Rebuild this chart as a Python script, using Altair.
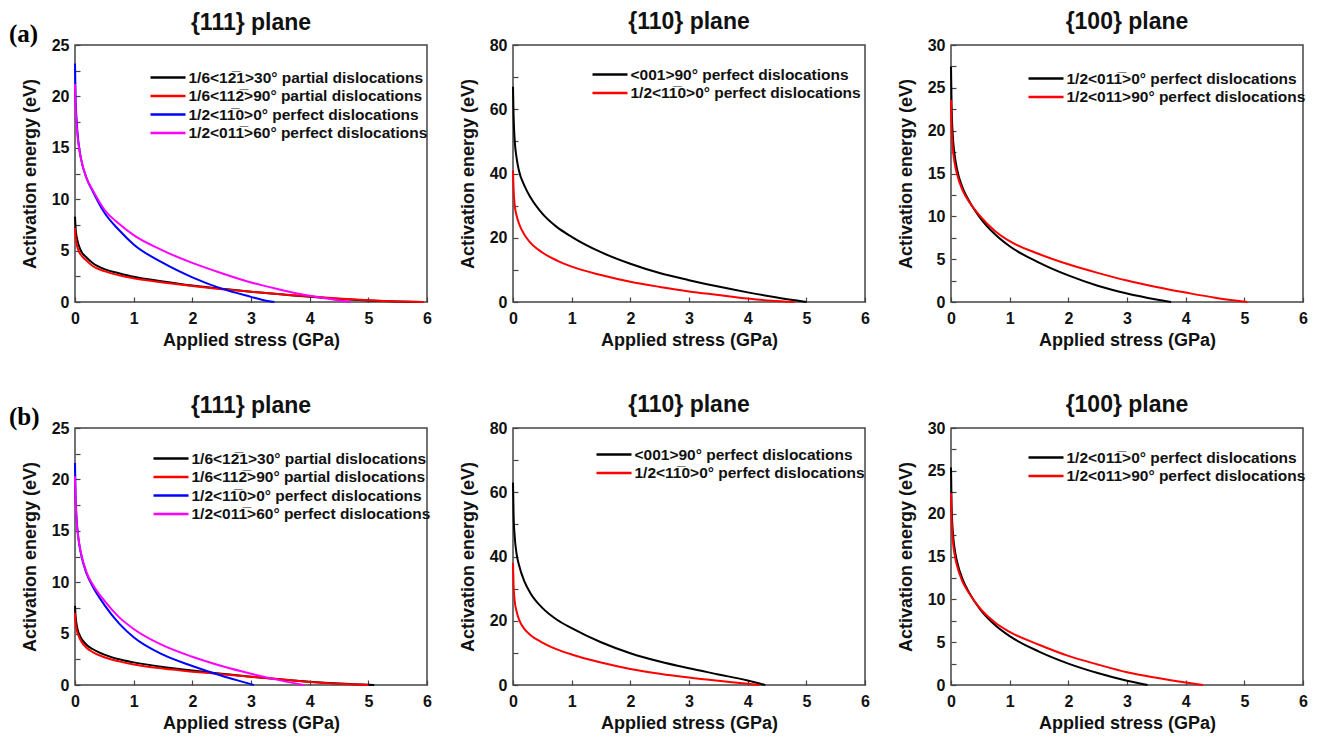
import altair as alt
import pandas as pd

# ---------------- data ----------------
# Row (a)
a111_x_30 = [0, 0.01, 0.03, 0.06, 0.1, 0.2, 0.3, 0.5, 0.75, 1, 1.5, 2, 2.5, 3, 3.5, 4, 4.5, 5, 5.5, 5.9]
a111_y_30 = [8.3, 7.2, 6.3, 5.6, 5.0, 4.3, 3.8, 3.2, 2.8, 2.45, 2.0, 1.6, 1.3, 1.0, 0.75, 0.5, 0.3, 0.15, 0.05, 0]
a111_x_90 = [0, 0.01, 0.03, 0.06, 0.1, 0.2, 0.3, 0.5, 0.75, 1, 1.5, 2, 2.5, 3, 3.5, 4, 4.5, 5, 5.5, 5.95]
a111_y_90 = [7.2, 6.3, 5.6, 5.0, 4.6, 4.0, 3.5, 3.0, 2.6, 2.3, 1.9, 1.55, 1.25, 1.0, 0.75, 0.55, 0.35, 0.18, 0.06, 0]
a111_x_0 = [0, 0.01, 0.03, 0.06, 0.1, 0.2, 0.3, 0.5, 0.75, 1, 1.5, 2, 2.5, 3, 3.2, 3.4]
a111_y_0 = [23.2, 20, 17.5, 15.5, 14.0, 12.0, 10.8, 8.7, 7.0, 5.6, 3.8, 2.4, 1.3, 0.5, 0.2, 0]
a111_x_60 = [0, 0.01, 0.03, 0.06, 0.1, 0.2, 0.3, 0.5, 0.75, 1, 1.5, 2, 2.5, 3, 3.5, 4, 4.4, 4.7]
a111_y_60 = [21.2, 19, 17, 15.3, 14.0, 12.0, 10.9, 9.0, 7.6, 6.5, 5.0, 3.8, 2.8, 1.9, 1.2, 0.6, 0.25, 0]

a110_x_90 = [0, 0.01, 0.03, 0.06, 0.1, 0.2, 0.3, 0.5, 0.75, 1, 1.5, 2, 2.5, 3, 3.5, 4, 4.5, 5]
a110_y_90 = [67, 58, 50, 45, 41, 36, 32.5, 27.5, 23.3, 20.3, 15.5, 11.9, 9.0, 6.8, 4.8, 3.0, 1.4, 0]
a110_x_0 = [0, 0.01, 0.03, 0.06, 0.1, 0.2, 0.3, 0.5, 0.75, 1, 1.5, 2, 2.5, 3, 3.5, 4, 4.4, 4.8]
a110_y_0 = [41, 35, 30, 27, 24.5, 20.8, 18.4, 15.4, 12.9, 11.0, 8.4, 6.3, 4.7, 3.3, 2.2, 1.1, 0.4, 0]

a100_x_0 = [0, 0.01, 0.03, 0.06, 0.1, 0.2, 0.3, 0.5, 0.75, 1, 1.5, 2, 2.5, 3, 3.5, 3.75]
a100_y_0 = [27.5, 23, 19.5, 17.3, 15.6, 13.3, 11.9, 9.8, 7.9, 6.5, 4.6, 3.1, 1.9, 1.0, 0.3, 0]
a100_x_90 = [0, 0.01, 0.03, 0.06, 0.1, 0.2, 0.3, 0.5, 0.75, 1, 1.5, 2, 2.5, 3, 3.5, 4, 4.5, 5.05]
a100_y_90 = [23.6, 20.5, 18, 16.3, 15.0, 13.0, 11.8, 10.0, 8.3, 7.1, 5.6, 4.4, 3.4, 2.5, 1.75, 1.1, 0.5, 0]

# Row (b)
b111_x_30 = [0, 0.01, 0.03, 0.06, 0.1, 0.2, 0.3, 0.5, 0.75, 1, 1.5, 2, 2.5, 3, 3.5, 4, 4.5, 5.1]
b111_y_30 = [7.7, 6.7, 5.8, 5.1, 4.6, 3.9, 3.5, 2.95, 2.5, 2.2, 1.75, 1.4, 1.1, 0.8, 0.55, 0.32, 0.14, 0]
b111_x_90 = [0, 0.01, 0.03, 0.06, 0.1, 0.2, 0.3, 0.5, 0.75, 1, 1.5, 2, 2.5, 3, 3.5, 4, 4.5, 5.0]
b111_y_90 = [7.0, 6.0, 5.3, 4.8, 4.3, 3.6, 3.2, 2.7, 2.3, 2.0, 1.6, 1.3, 1.05, 0.8, 0.55, 0.3, 0.12, 0]
b111_x_0 = [0, 0.01, 0.03, 0.06, 0.1, 0.2, 0.3, 0.5, 0.75, 1, 1.5, 2, 2.5, 2.8, 3.05]
b111_y_0 = [21.6, 18.5, 16, 14.2, 12.8, 10.8, 9.6, 7.8, 6.0, 4.65, 2.95, 1.85, 0.9, 0.4, 0]
b111_x_60 = [0, 0.01, 0.03, 0.06, 0.1, 0.2, 0.3, 0.5, 0.75, 1, 1.5, 2, 2.5, 3, 3.5, 3.9]
b111_y_60 = [20.3, 18, 15.8, 14.2, 12.9, 10.9, 9.8, 8.2, 6.6, 5.45, 3.85, 2.75, 1.85, 1.1, 0.45, 0]

b110_x_90 = [0, 0.01, 0.03, 0.06, 0.1, 0.2, 0.3, 0.5, 0.75, 1, 1.5, 2, 2.5, 3, 3.5, 4, 4.3]
b110_y_90 = [63, 53, 46, 41, 37.5, 32, 28.5, 24, 20.3, 17.7, 13.3, 9.9, 7.3, 5.2, 3.3, 1.4, 0]
b110_x_0 = [0, 0.01, 0.03, 0.06, 0.1, 0.2, 0.3, 0.5, 0.75, 1, 1.5, 2, 2.5, 3, 3.5, 4, 4.2]
b110_y_0 = [38, 31, 26, 23, 20.5, 17.3, 15.5, 13.2, 11.1, 9.5, 7.0, 5.0, 3.5, 2.3, 1.3, 0.4, 0]

b100_x_0 = [0, 0.01, 0.03, 0.06, 0.1, 0.2, 0.3, 0.5, 0.75, 1, 1.5, 2, 2.5, 3, 3.35]
b100_y_0 = [25.4, 21, 18, 16, 14.5, 12.3, 10.9, 8.8, 7.0, 5.7, 3.9, 2.5, 1.4, 0.5, 0]
b100_x_90 = [0, 0.01, 0.03, 0.06, 0.1, 0.2, 0.3, 0.5, 0.75, 1, 1.5, 2, 2.5, 3, 3.5, 4, 4.3]
b100_y_90 = [22.4, 19.5, 17, 15.3, 14.0, 12.0, 10.8, 8.9, 7.3, 6.2, 4.7, 3.4, 2.4, 1.5, 0.85, 0.3, 0]

OV = "\u0305"  # combining overline
lab111 = [
    "1/6<12" + OV + "1>30° partial dislocations",
    "1/6<112" + OV + ">90° partial dislocations",
    "1/2<11" + OV + "0>0° perfect dislocations",
    "1/2<011" + OV + ">60° perfect dislocations",
]
lab110 = [
    "<001>90° perfect dislocations",
    "1/2<11" + OV + "0>0° perfect dislocations",
]
lab100 = [
    "1/2<011" + OV + ">0° perfect dislocations",
    "1/2<011>90° perfect dislocations",
]
col4 = ["#000000", "#ff0000", "#0000ff", "#ff00ff"]
col2 = ["#000000", "#ff0000"]

FONT = "Liberation Sans"
W, H = 352, 257


def panel(title, labels, colors, xs, ys, ymax, ystep, lx, ly, tag=None):
    rows = []
    for i, (lab, xv, yv) in enumerate(zip(labels, xs, ys)):
        for k, (a, b) in enumerate(zip(xv, yv)):
            rows.append({"s": lab, "o": i, "x": a, "y": b, "k": k})
    df = pd.DataFrame(rows)
    lines = alt.Chart(df).mark_line(strokeWidth=2, interpolate="monotone").encode(
        x=alt.X("x:Q", scale=alt.Scale(domain=[0, 6], nice=False),
                axis=alt.Axis(title="Applied stress (GPa)", format="d",
                              values=[i * 0.5 for i in range(13)],
                              labelExpr="datum.value % 1 == 0 ? datum.label : ''")),
        y=alt.Y("y:Q", scale=alt.Scale(domain=[0, ymax], nice=False),
                axis=alt.Axis(title="Activation energy (eV)", format="d",
                              values=[i * ystep / 2 for i in range(int(2 * ymax / ystep) + 1)],
                              labelExpr="datum.value %% %g == 0 ? datum.label : ''" % ystep)),
        color=alt.Color("s:N", scale=alt.Scale(domain=labels, range=colors),
                        legend=alt.Legend(title=None, orient="none", legendX=lx, legendY=ly,
                                          symbolType="M-2.5,0H2.5", symbolSize=196,
                                          symbolStrokeWidth=2.5, labelOffset=12,
                                          labelFont=FONT, labelFontSize=15.5,
                                          labelFontWeight="bold", labelColor="#111",
                                          labelLimit=500, rowPadding=1.5, padding=0)),
        detail="s:N",
        order="k:Q",
    )
    layers = [lines]
    dy = 0
    if tag is not None:
        t = alt.Chart(pd.DataFrame({"t": [tag]})).mark_text(
            font="Liberation Serif", fontSize=25, fontWeight="bold", align="left",
            baseline="middle", color="#000").encode(
            text="t:N", x=alt.value(-66), y=alt.value(-11))
        layers.append(t)
        dy = 15.5
    return alt.layer(*layers).properties(
        width=W, height=H,
        title=alt.TitleParams(title, fontSize=23, font=FONT, fontWeight="bold",
                              anchor="middle", offset=3, color="#111", frame="group",
                              dy=dy),
    ).resolve_scale(color="independent")


row_a = alt.hconcat(
    panel("{111} plane", lab111, col4,
          [a111_x_30, a111_x_90, a111_x_0, a111_x_60],
          [a111_y_30, a111_y_90, a111_y_0, a111_y_60], 25, 5, 84.5, 24, "(a)"),
    panel("{110} plane", lab110, col2, [a110_x_90, a110_x_0], [a110_y_90, a110_y_0],
          80, 20, 88.5, 21),
    panel("{100} plane", lab100, col2, [a100_x_0, a100_x_90], [a100_y_0, a100_y_90],
          30, 5, 86.5, 25),
    spacing=25,
).resolve_scale(color="independent")

row_b = alt.hconcat(
    panel("{111} plane", lab111, col4,
          [b111_x_30, b111_x_90, b111_x_0, b111_x_60],
          [b111_y_30, b111_y_90, b111_y_0, b111_y_60], 25, 5, 87.5, 22, "(b)"),
    panel("{110} plane", lab110, col2, [b110_x_90, b110_x_0], [b110_y_90, b110_y_0],
          80, 20, 92.5, 18),
    panel("{100} plane", lab100, col2, [b100_x_0, b100_x_90], [b100_y_0, b100_y_90],
          30, 5, 86.5, 21),
    spacing=25,
).resolve_scale(color="independent")

chart = alt.vconcat(row_a, row_b, spacing=43).resolve_scale(color="independent").properties(
    padding={"left": 0, "top": 2, "right": 0, "bottom": 0}
).configure_view(stroke="#444", strokeWidth=1.5).configure_axis(
    domain=False, offset=-5, tickSize=5, tickWidth=1.2, tickColor="#444",
    labelFont=FONT, labelFontSize=16, labelFontWeight="bold", labelColor="#111",
    titleFont=FONT, titleFontSize=18, titleFontWeight="bold",
    titleColor="#111", grid=False, labelFlush=False, labelOverlap=False,
).configure_axisX(titlePadding=5, labelPadding=8).configure_axisY(titlePadding=12, labelPadding=6)

chart.save("out.html", embed_options={"renderer": "svg", "actions": False})
